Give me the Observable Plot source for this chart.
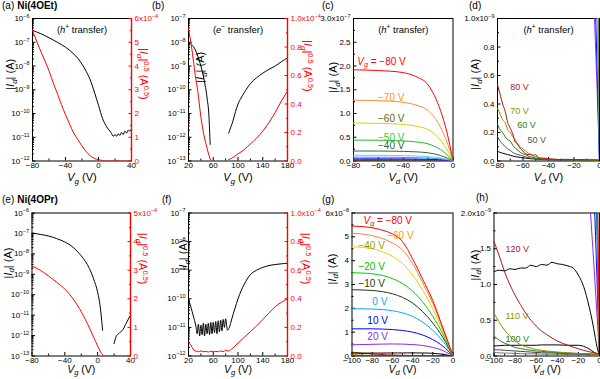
<!DOCTYPE html>
<html><head><meta charset="utf-8">
<script src="https://cdn.jsdelivr.net/npm/d3@7"></script>
<script src="https://cdn.jsdelivr.net/npm/@observablehq/plot@0.6"></script>
<style>
body{margin:0;background:#fff;}
#root{position:relative;width:600px;height:379px;overflow:hidden;background:#fff;font-family:"Liberation Sans",Arial,sans-serif;}
#root svg{position:absolute;left:0;top:0;}
.tag{position:absolute;font-size:10px;line-height:10px;white-space:nowrap;color:#000;}
.tag b{margin-left:3px;}
</style></head><body><div id="root"></div>
<script>
// ================= DATA =================
// (a) Ni(4OEt), h+ transfer
const aXDomain = [-80, 40];
const aLogDomain = [1e-12, 1e-6];
const aVgBlack = [-80,-75,-70,-65,-60,-55,-50,-45,-40,-35,-30,-25,-20,-15,-10,-5,0,5,10,15,18,20,22,24,26,28,30,32,34,36,38,40];
const aIdBlack = [3.2e-7,2.7e-7,2.3e-7,1.9e-7,1.55e-7,1.25e-7,1.0e-7,8e-8,6.2e-8,4.6e-8,3.2e-8,2.1e-8,1.2e-8,6e-9,2.6e-9,8e-10,2.2e-10,6e-11,2.7e-11,1.6e-11,1.1e-11,1.3e-11,1.1e-11,1.4e-11,1.2e-11,1.6e-11,1.3e-11,1.8e-11,1.5e-11,2.0e-11,1.8e-11,2.3e-11];
const aVgRed = [-80,-75,-70,-65,-60,-55,-50,-45,-40,-35,-30,-25,-20,-15,-10,-5,0,5,10,20,30,40];
const aSqrtRed = [5.5,5.05,4.62,4.22,3.8,3.3,2.85,2.38,1.95,1.55,1.17,0.9,0.63,0.40,0.22,0.11,0.05,0.02,0.01,0.005,0.005,0.005]; // x1e-4
const aRightDomain = [0, 6];
// (b) Ni(4OEt), e- transfer
const bXDomain = [20, 180];
const bLogDomain = [1e-13, 1e-7];
const bVgBlack1 = [20,22,25,28,31,35,40,45,50,53,55];
const bIdBlack1 = [1.0e-8,9.5e-9,8e-9,6.5e-9,4.8e-9,2.6e-9,1.0e-9,2.8e-10,4.5e-11,8e-12,5e-13];
const bVgBlack2 = [85,88,92,96,100,105,110,120,130,140,150,160,170,180];
const bIdBlack2 = [1.5e-12,2.5e-12,5e-12,1.2e-11,2.5e-11,4.5e-11,7.5e-11,1.8e-10,3.2e-10,5e-10,7.2e-10,1.0e-9,1.5e-9,2.2e-9];
const bVgRed1 = [20,22,25,28,31,35,40,45,50,53,56];
const bSqrtRed1 = [0.93,0.88,0.80,0.70,0.60,0.49,0.31,0.18,0.09,0.04,0.005]; // x1e-4
const bVgRed2 = [85,90,100,110,120,130,140,150,160,170,180];
const bSqrtRed2 = [0.01,0.02,0.05,0.08,0.12,0.16,0.21,0.27,0.34,0.42,0.49];
const bRightDomain = [0, 1];
// (c) output, negative Vg (x1e-7 A)
const cXDomain = [-80, 0];
const cYDomain = [0, 3];
const cVd = [-80,-70,-60,-50,-40,-30,-20,-15,-10,-5,0];
const cVg = ["-80","-70","-60","-50","-40","-30","-20","-10","0"];
const cId = [
  [1.92,1.915,1.905,1.89,1.86,1.78,1.60,1.38,1.06,0.62,0],
  [1.28,1.277,1.27,1.26,1.235,1.18,1.06,0.92,0.71,0.41,0],
  [0.80,0.798,0.793,0.785,0.77,0.735,0.66,0.57,0.44,0.25,0],
  [0.44,0.439,0.437,0.432,0.423,0.403,0.36,0.31,0.24,0.135,0],
  [0.21,0.21,0.209,0.207,0.203,0.193,0.173,0.15,0.115,0.065,0],
  [0.12,0.12,0.119,0.117,0.113,0.105,0.092,0.08,0.063,0.036,0],
  [0.08,0.08,0.079,0.078,0.075,0.07,0.062,0.054,0.043,0.025,0],
  [0.045,0.045,0.045,0.044,0.043,0.04,0.036,0.032,0.026,0.016,0],
  [0.03,0.03,0.03,0.029,0.028,0.026,0.023,0.021,0.018,0.012,0]
];
const cColors = ["#ff0000","#ff8c3a","#d4d400","#22bb22","#2f6b3a","#66ccff","#3399ff","#0000ff","#9933ff"];
const cLabText = ["@{V}@_{g} = −80 V","−70 V","−60 V","−50 V","−40 V"];
const cLabVd = [-77,-60.3,-60.3,-60.3,-60.3];
const cLabId = [2.09,1.34,0.89,0.49,0.32];
const cLabColor = ["#ff0000","#ff9900","#666600","#33cc33","#2f5f3f"];
// (d) output, positive Vg (x1e-9 A)
const dXDomain = [-80, 0];
const dYDomain = [0, 1];
const dVd = [-80,-78,-76,-74,-72,-70,-68,-66,-64,-62,-60,-58,-56,-54,-52,-50,-48,-46,-44,-40,-35,-30,-25,-20,-15,-10,-5,-2,0];
const dVg = ["80","70","60","50","40"];
const dId = [
  [0.535,0.47,0.40,0.35,0.27,0.23,0.19,0.13,0.12,0.085,0.07,0.05,0.045,0.045,0.04,0.045,0.025,0.02,0.02,0.015,0.012,0.01,0.012,0.01,0.01,0.008,0.008,0.008,0.005],
  [0.37,0.33,0.29,0.27,0.22,0.20,0.17,0.15,0.11,0.095,0.085,0.07,0.055,0.05,0.035,0.03,0.025,0.02,0.018,0.015,0.012,0.01,0.01,0.009,0.008,0.007,0.007,0.006,0.004],
  [0.26,0.22,0.20,0.17,0.15,0.14,0.11,0.09,0.075,0.06,0.05,0.045,0.035,0.03,0.025,0.02,0.018,0.015,0.012,0.01,0.009,0.008,0.008,0.007,0.006,0.006,0.005,0.005,0.003],
  [0.17,0.14,0.12,0.10,0.085,0.075,0.06,0.05,0.045,0.04,0.035,0.03,0.025,0.02,0.018,0.015,0.013,0.012,0.01,0.008,0.007,0.006,0.006,0.005,0.005,0.004,0.004,0.004,0.002],
  [0.07,0.06,0.055,0.05,0.045,0.04,0.035,0.03,0.028,0.025,0.022,0.02,0.018,0.016,0.015,0.014,0.012,0.011,0.01,0.009,0.008,0.007,0.007,0.006,0.006,0.005,0.005,0.004,0.002]
];
const dColors = ["#b3161b","#8f8f00","#2b7a1e","#555555","#000000"];
const dLabText = ["80 V","70 V","60 V","50 V"];
const dLabVd = [-70,-70,-64.5,-56.5];
const dLabId = [0.52,0.35,0.25,0.15];
const dLabColor = ["#b3161b","#8f8f00","#2b7a1e","#555555"];
// (e) Ni(4OPr), h+ transfer
const eXDomain = [-80, 40];
const eLogDomain = [1e-13, 1e-6];
const eVgBlack1 = [-80,-70,-60,-50,-40,-30,-25,-20,-15,-10,-5,0,3,5,6];
const eIdBlack1 = [1.05e-7,9e-8,7.5e-8,5.6e-8,3.8e-8,2.1e-8,1.35e-8,8e-9,4.3e-9,1.9e-9,6e-10,1.3e-10,2.8e-11,5e-12,1.8e-12];
const eVgBlack2 = [20,22,25,28,31,34,37,40];
const eIdBlack2 = [4e-13,8e-13,1.2e-12,1.5e-12,2e-12,3.5e-12,6e-12,1.0e-11];
const eVgRed = [-80,-70,-60,-50,-40,-30,-20,-10,-5,0,5,8,10,20,30,40];
const eSqrtRed = [3.15,3.0,2.8,2.58,2.34,2.0,1.55,0.98,0.66,0.35,0.08,0.01,0.005,0.005,0.005,0.005]; // x1e-4
const eRightDomain = [0, 5];
// (f) Ni(4OPr), e- transfer
const fXDomain = [20, 180];
const fLogDomain = [1e-12, 1e-7];
const fVgBlack = [20,23,26,29,32,34,36,38,40,42,44,46,48,50,52,54,56,58,60,62,64,66,68,70,72,74,76,78,80,83,86,90,95,100,105,110,120,130,140,150,160,170,180];
const fIdBlack = [9e-11,6e-11,3.5e-11,2e-11,1.1e-11,6e-12,1.3e-11,5e-12,1.2e-11,5.5e-12,1.4e-11,5e-12,1.3e-11,6e-12,1.4e-11,5.5e-12,1.5e-11,6e-12,1.5e-11,6.5e-12,1.6e-11,6e-12,1.7e-11,7e-12,1.8e-11,7.5e-12,1.9e-11,1.0e-11,2.0e-11,8e-12,1.0e-11,2e-11,4.5e-11,1.0e-10,1.9e-10,3.2e-10,7e-10,1.0e-9,1.25e-9,1.45e-9,1.58e-9,1.67e-9,1.75e-9];
const fVgRed = [20,23,26,29,32,36,40,44,48,52,56,60,64,68,72,76,80,85,90,100,110,120,130,140,150,160,170,180];
const fSqrtRed = [0.10,0.08,0.06,0.04,0.035,0.03,0.035,0.03,0.032,0.028,0.033,0.03,0.032,0.03,0.035,0.03,0.04,0.035,0.05,0.09,0.13,0.17,0.21,0.255,0.30,0.345,0.375,0.40]; // x1e-4
const fRightDomain = [0, 1];
// (g) output, Ni(4OPr) (x1e-8 A)
const gXDomain = [-100, 0];
const gYDomain = [0, 6];
const gVd = [-100,-90,-80,-70,-60,-50,-40,-30,-20,-10,-5,0];
const gVg = ["-80","-60","-40","-20","-10","0","10","20"];
const gId = [
  [5.45,5.43,5.38,5.28,5.12,4.80,4.08,3.22,2.32,1.18,0.6,0],
  [5.15,5.12,5.05,4.93,4.74,4.45,3.88,3.07,2.2,1.13,0.57,0],
  [4.58,4.56,4.50,4.38,4.18,3.88,3.4,2.76,1.98,1.04,0.53,0],
  [3.49,3.48,3.45,3.38,3.25,3.04,2.72,2.27,1.66,0.92,0.48,0],
  [2.78,2.77,2.75,2.70,2.61,2.46,2.22,1.86,1.38,0.78,0.41,0],
  [1.98,1.98,1.97,1.95,1.90,1.81,1.66,1.42,1.08,0.62,0.33,0],
  [1.14,1.14,1.14,1.13,1.11,1.07,1.0,0.88,0.69,0.41,0.22,0],
  [0.47,0.48,0.49,0.50,0.505,0.50,0.48,0.44,0.36,0.23,0.12,0]
];
const gColors = ["#ff0000","#ff7f3f","#d9d900","#00cc00","#1e3a10","#00aaff","#0000ff","#8a2be2"];
const gLabText = ["@{V}@_{g} = −80 V","−60 V","−40 V","−20 V","−10 V","0 V","10 V","20 V"];
const gLabVd = [-88.6,-65.2,-93.6,-93.6,-93.6,-79.9,-84.8,-84.8];
const gLabId = [5.69,5.06,4.64,3.73,3.04,2.26,1.46,0.81];
const gLabColor = ["#ff0000","#ff9900","#999900","#00bb00","#1e3a10","#00aaff","#0000ee","#8a2be2"];
// (h) output, positive Vg (x1e-9 A)
const hXDomain = [-100, 0];
const hYDomain = [0, 2];
const hBlackVd = [-100,-95,-90,-85,-80,-75,-70,-65,-60,-55,-50,-45,-40,-35,-30,-25,-20,-15,-10,-7,-4,-2,0];
const hBlackId = [1.18,1.2,1.19,1.22,1.21,1.23,1.23,1.27,1.25,1.28,1.27,1.31,1.29,1.28,1.26,1.23,1.13,0.97,0.7,0.5,0.26,0.1,0.02];
const hVd = [-100,-95,-90,-85,-80,-75,-70,-65,-60,-55,-50,-40,-30,-20,-10,-5,0];
const hVg = ["120","110","100","90","80","70"];
const hId = [
  [1.6,1.4,1.18,1.0,0.85,0.72,0.6,0.5,0.42,0.35,0.3,0.21,0.15,0.1,0.06,0.045,0.03],
  [0.6,0.47,0.36,0.28,0.21,0.16,0.13,0.11,0.09,0.08,0.07,0.055,0.045,0.035,0.03,0.025,0.02],
  [0.28,0.22,0.18,0.15,0.12,0.105,0.09,0.08,0.07,0.065,0.06,0.05,0.04,0.035,0.03,0.025,0.02],
  [0.14,0.145,0.15,0.15,0.15,0.15,0.15,0.15,0.15,0.155,0.155,0.155,0.15,0.15,0.1,0.05,0.02],
  [0.09,0.085,0.08,0.075,0.07,0.065,0.06,0.055,0.05,0.045,0.045,0.04,0.035,0.03,0.025,0.02,0.015],
  [0.05,0.045,0.04,0.04,0.035,0.035,0.03,0.03,0.03,0.025,0.025,0.025,0.02,0.02,0.02,0.015,0.01]
];
const hColors = ["#b3161b","#8f8f00","#2b7a1e","#000000","#444444","#777777"];
const hLabText = ["120 V","110 V","100 V"];
const hLabVd = [-89,-89,-89];
const hLabId = [1.49,0.56,0.24];
const hLabColor = ["#b3161b","#8f8f00","#2b7a1e"];

// tick values and labels
const ticksX_a = [-80,-40,0,40], labX_a = ["−80","−40","0","40"];
const ticksX_b = [20,60,100,140,180], labX_b = ["20","60","100","140","180"];
const ticksX_c = [-80,-60,-40,-20,0], labX_c = ["−80","−60","−40","−20","0"];
const ticksX_g = [-100,-80,-60,-40,-20,0], labX_g = ["−100","−80","−60","−40","−20","0"];
const ticksR_a = [0,1,2,3,4,5,6], labR_a = ["0","1","2","3","4","5","6x10^{−4}"];
const ticksR_b = [0,0.2,0.4,0.6,0.8,1.0], labR_b = ["0.0","0.2","0.4","0.6","0.8","1.0x10^{−4}"];
const ticksR_e = [0,1,2,3,4,5], labR_e = ["0","1","2","3","4","5x10^{−4}"];
const ticksY_c = [0,0.5,1,1.5,2,2.5,3], labY_c = ["0.0","0.5","1.0","1.5","2.0","2.5","3.0x10^{−7}"];
const ticksY_d = [0,0.2,0.4,0.6,0.8,1.0], labY_d = ["0.0","0.2","0.4","0.6","0.8","1.0x10^{−9}"];
const ticksY_g = [0,1,2,3,4,5,6], labY_g = ["0","1","2","3","4","5","6x10^{−8}"];
const ticksY_h = [0,0.5,1,1.5,2], labY_h = ["0.0","0.5","1.0","1.5","2.0x10^{−9}"];

// ================= LAYOUT =================
const W = 600, H = 379, RED = "#ff0000";
const FONT = "'Liberation Sans', Arial, Helvetica, sans-serif";
const FR = {
  a: [32, 131, 18, 160.5], b: [188, 287, 18, 160.5], c: [353, 452.5, 18, 160.5], d: [497, 599, 18, 160.5],
  e: [31.5, 130, 212.5, 355.5], f: [188, 287, 212.5, 355.5], g: [351.5, 452.5, 212.5, 355.5], h: [493.5, 599, 212.5, 355.5]
};
const root = document.getElementById("root");

// rich text: @{..} italic, _{..} subscript, ^{..} superscript (combinable)
function richify(svg) {
  svg.querySelectorAll("text").forEach(el => {
    const s = el.textContent;
    if (!/[@_^]+\{/.test(s)) return;
    while (el.firstChild) el.removeChild(el.firstChild);
    const re = /([@_^]+)\{([^}]*)\}/g;
    let last = 0, m, cur = 0;
    const add = (txt, mode) => {
      if (!txt) return;
      const t = document.createElementNS("http://www.w3.org/2000/svg", "tspan");
      t.textContent = txt;
      let k = 1, sh = 0;
      if (mode.includes("@")) t.setAttribute("font-style", "italic");
      if (mode.includes("_")) { k = 0.72; sh = 0.25; }
      if (mode.includes("^")) { k = 0.68; sh = -0.4; }
      if (k !== 1) t.setAttribute("font-size", (k * 100) + "%");
      if (sh !== cur) t.setAttribute("dy", ((sh - cur) / k).toFixed(3) + "em");
      cur = sh;
      el.appendChild(t);
    };
    while ((m = re.exec(s))) { add(s.slice(last, m.index), ""); add(m[2], m[1]); last = re.lastIndex; }
    add(s.slice(last), "");
  });
}

function svgPanel(fr, x, y, marks, ink) {
  const svg = Plot.plot({
    width: W, height: H,
    marginLeft: fr[0], marginRight: W - fr[1], marginTop: fr[2], marginBottom: H - fr[3],
    x: {label: null, axis: null, ...x},
    y: {label: null, axis: null, ...y},
    color: {type: "identity"},
    style: {fontFamily: FONT, fontSize: "8px", color: ink || "black", background: "transparent", overflow: "visible"},
    marks
  });
  richify(svg);
  root.appendChild(svg);
}

const fmt = (t, l) => d => { const i = t.indexOf(d); return i < 0 ? "" : l[i]; };
const mids = t => t.slice(1).map((v, i) => (v + t[i]) / 2);
function logTicks([lo, hi]) { const o = []; for (let e = Math.round(Math.log10(lo)); e <= Math.round(Math.log10(hi)); e++) o.push(+("1e" + e)); return o; }
function logLabels(t) { return t.map(v => { const e = Math.round(Math.log10(v)); return "10^{" + (e < 0 ? "−" : "") + Math.abs(e) + "}"; }); }
function logMinor([lo, hi]) { const o = []; for (let e = Math.round(Math.log10(lo)); e < Math.round(Math.log10(hi)); e++) for (let m = 2; m < 10; m++) o.push(m * +("1e" + e)); return o; }

function yAxis(anchor, ticks, labels, minor) {
  return [
    Plot.axisY({anchor, ticks, tickSize: -3.5, tickPadding: 6.5, tickFormat: fmt(ticks, labels), label: null}),
    Plot.axisY({anchor, ticks: minor, tickSize: -2, tickPadding: 0, tickFormat: () => "", label: null})
  ];
}
function xAxis(ticks, labels) {
  return [
    Plot.axisX({anchor: "bottom", ticks, tickSize: -3.5, tickPadding: 5, tickFormat: fmt(ticks, labels), label: null}),
    Plot.axisX({anchor: "bottom", ticks: mids(ticks), tickSize: -2, tickPadding: 0, tickFormat: () => "", label: null})
  ];
}
const rows = (xs, ys, key, color, k = 1) => xs.map((x, i) => ({x, y: ys[i] * k, key, color}));
const lines = (data, w = 1) => Plot.line(data, {x: "x", y: "y", z: "key", stroke: "color", strokeWidth: w, curve: "monotone-x", clip: true});
const labels = (text, xs, ys, cols, size) => Plot.text(text, {x: (d, i) => xs[i], y: (d, i) => ys[i], fill: (d, i) => cols[i], textAnchor: "start", fontSize: size});
const title = (s, dy = 8) => Plot.text([s], {frameAnchor: "top", dy, fontSize: 9.5});
const xTitle = (s, dy, size = 11) => Plot.text([s], {frameAnchor: "bottom", dy, fontSize: size});
const yTitle = (s, dx, dy = 0) => Plot.text([s], {frameAnchor: "left", dx, dy, rotate: -90, fontSize: 11});
const rTitle = (s, dx, dy = 0) => Plot.text([s], {frameAnchor: "right", dx, dy, rotate: 90, fontSize: 11});
const ID = "|@{I}@_{d}| (A)", SQ = "|@{I}@_{d}|^{0.5} (A^{0.5})", VG = "@{V}@_{g} (V)", VD = "@{V}@_{d} (V)";

// ----- dual-axis transfer panels -----
function transfer(fr, xDom, logDom, blackSets, redSets, rDom, rTicks, rLabs, xT, xL, ttl, opt) {
  const lt = logTicks(logDom);
  svgPanel(fr, {domain: xDom}, {type: "log", domain: logDom}, [
    Plot.frame({stroke: "black"}),
    ...yAxis("left", lt, logLabels(lt), logMinor(logDom)),
    ...xAxis(xT, xL),
    lines(blackSets.flatMap((s, i) => rows(s[0], s[1], "k" + i, "black"))),
    ...(ttl ? [title(ttl)] : []),
    xTitle(VG, opt.xdy, opt.xs),
    yTitle(ID, opt.ydx, opt.ydy)
  ]);
  svgPanel(fr, {domain: xDom}, {domain: rDom}, [
    Plot.ruleX([xDom[1]], {stroke: RED, strokeWidth: 1.4}),
    ...yAxis("right", rTicks, rLabs, mids(rTicks)),
    lines(redSets.flatMap((s, i) => rows(s[0], s[1], "r" + i, RED))),
    rTitle(SQ, opt.rdx, opt.rdy)
  ], RED);
}

transfer(FR.a, aXDomain, aLogDomain, [[aVgBlack, aIdBlack]], [[aVgRed, aSqrtRed]],
  aRightDomain, ticksR_a, labR_a, ticksX_a, labX_a, "(@{h}^{+} transfer)", {xdy: 20, xs: 11, ydx: -22, ydy: 0, rdx: 12, rdy: 10});
transfer(FR.b, bXDomain, bLogDomain, [[bVgBlack1, bIdBlack1], [bVgBlack2, bIdBlack2]], [[bVgRed1, bSqrtRed1], [bVgRed2, bSqrtRed2]],
  bRightDomain, ticksR_b, labR_b, ticksX_b, labX_b, "(@{e}^{−} transfer)", {xdy: 20, xs: 11, ydx: 12, ydy: -7, rdx: 20, rdy: 2});
transfer(FR.e, eXDomain, eLogDomain, [[eVgBlack1, eIdBlack1], [eVgBlack2, eIdBlack2]], [[eVgRed, eSqrtRed]],
  eRightDomain, ticksR_e, labR_e, ticksX_a, labX_a, null, {xdy: 16.5, xs: 10.5, ydx: -24, ydy: -6, rdx: 12, rdy: 0});
transfer(FR.f, fXDomain, fLogDomain, [[fVgBlack, fIdBlack]], [[fVgRed, fSqrtRed]],
  fRightDomain, ticksR_b, labR_b, ticksX_b, labX_b, null, {xdy: 16.5, xs: 10.5, ydx: -5, ydy: -14, rdx: 18, rdy: 0});

// ----- output panels -----
const cSets = cId.map((s, i) => rows(cVd, s, "c" + cVg[i], cColors[i]));
const dSets = dId.map((s, i) => rows(dVd, s, "d" + dVg[i], dColors[i]));
const cSetsInD = cId.map((s, i) => rows(cVd, s, "c" + cVg[i], cColors[i], 100));
const dSetsInC = dId.map((s, i) => rows(dVd, s, "d" + dVg[i], dColors[i], 0.01));

svgPanel(FR.c, {domain: cXDomain}, {domain: cYDomain}, [
  Plot.frame({stroke: "black"}),
  ...yAxis("left", ticksY_c, labY_c, mids(ticksY_c)),
  ...xAxis(ticksX_c, labX_c),
  lines([...dSetsInC.flat(), ...cSets.slice().reverse().flat()]),
  labels(cLabText, cLabVd, cLabId, cLabColor, 10),
  title("(@{h}^{+} transfer)"),
  xTitle(VD, 20), yTitle(ID, -20, 3)
]);
svgPanel(FR.d, {domain: dXDomain}, {domain: dYDomain}, [
  Plot.frame({stroke: "black"}),
  ...yAxis("left", ticksY_d, labY_d, mids(ticksY_d)),
  ...xAxis(ticksX_c, labX_c),
  lines([...cSetsInD.slice().reverse().flat(), ...dSets.slice().reverse().flat()]),
  labels(dLabText, dLabVd, dLabId, dLabColor, 9),
  title("(@{h}^{+} transfer)"),
  xTitle(VD, 20), yTitle(ID, -22, 0)
]);

const gSets = gId.map((s, i) => rows(gVd, s, "g" + gVg[i], gColors[i]));
const gSetsInH = gId.map((s, i) => rows(gVd, s, "g" + gVg[i], gColors[i], 10));
const hSets = hId.map((s, i) => rows(hVd, s, "h" + hVg[i], hColors[i]));
const hSetsInG = hId.map((s, i) => rows(hVd, s, "h" + hVg[i], hColors[i], 0.1));
const blackInG = rows(hBlackVd, hBlackId, "b30", "#000000", 0.1);
const blackInH = rows(hBlackVd, hBlackId, "b30", "#000000");

svgPanel(FR.g, {domain: gXDomain}, {domain: gYDomain}, [
  Plot.frame({stroke: "black"}),
  ...yAxis("left", ticksY_g, labY_g, mids(ticksY_g)),
  ...xAxis(ticksX_g, labX_g),
  lines([...hSetsInG.flat(), ...blackInG, ...gSets.slice().reverse().flat()]),
  labels(gLabText, gLabVd, gLabId, gLabColor, 10),
  xTitle(VD, 16.5, 10.5), yTitle(ID, -20, 0)
]);
svgPanel(FR.h, {domain: hXDomain}, {domain: hYDomain}, [
  Plot.frame({stroke: "black"}),
  ...yAxis("left", ticksY_h, labY_h, mids(ticksY_h)),
  ...xAxis(ticksX_g, labX_g),
  lines([...gSetsInH.slice().reverse().flat(), ...hSets.slice().reverse().flat(), ...blackInH]),
  labels(hLabText, hLabVd, hLabId, hLabColor, 9),
  xTitle(VD, 16.5, 10.5), yTitle(ID, -19, -4)
]);

// ----- panel tags -----
const tags = [["(a)", "Ni(4OEt)"], ["(b)", ""], ["(c)", ""], ["(d)", ""], ["(e)", "Ni(4OPr)"], ["(f)", ""], ["(g)", ""], ["(h)", ""]];
const tagPos = [[2, 1], [152, 1], [322, 1], [469, 1], [2, 195], [162, 195], [322, 195], [476, 193]];
tags.forEach(([t, b], i) => {
  const div = document.createElement("div");
  div.className = "tag";
  div.style.left = tagPos[i][0] + "px";
  div.style.top = tagPos[i][1] + "px";
  div.textContent = t;
  if (b) { const bb = document.createElement("b"); bb.textContent = b; div.appendChild(bb); }
  root.appendChild(div);
});
</script></body></html>
